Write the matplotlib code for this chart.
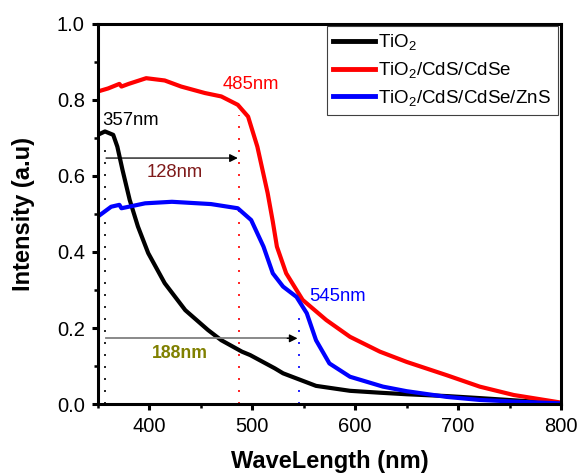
import matplotlib
matplotlib.use("Agg")
import matplotlib.pyplot as plt
from matplotlib.ticker import MultipleLocator, FormatStrFormatter

plt.rcParams['font.family'] = ['Liberation Sans', 'DejaVu Sans']
plt.rcParams['mathtext.fontset'] = 'custom'
plt.rcParams['mathtext.rm'] = 'Liberation Sans'
plt.rcParams['mathtext.it'] = 'Liberation Sans:italic'
plt.rcParams['mathtext.bf'] = 'Liberation Sans:bold'

# Data
tio2_x = [350, 357, 365, 369, 374, 381, 389, 399, 415, 435, 457, 470, 490, 498, 522, 530, 562, 595, 624, 650, 690, 720, 760, 800]
tio2_y = [0.708, 0.717, 0.708, 0.677, 0.616, 0.537, 0.467, 0.397, 0.318, 0.247, 0.195, 0.168, 0.138, 0.129, 0.094, 0.081, 0.048, 0.035, 0.030, 0.026, 0.021, 0.016, 0.009, 0.002]

cdse_x = [350, 360, 371, 373, 380, 397, 415, 431, 454, 470, 486, 496, 505, 515, 520, 524, 533, 549, 572, 595, 624, 650, 689, 721, 754, 800]
cdse_y = [0.822, 0.830, 0.842, 0.835, 0.842, 0.857, 0.851, 0.835, 0.818, 0.809, 0.787, 0.756, 0.677, 0.555, 0.480, 0.414, 0.344, 0.274, 0.221, 0.177, 0.138, 0.111, 0.076, 0.046, 0.024, 0.004]

zns_x = [350, 363, 371, 373, 396, 422, 460, 486, 499, 511, 520, 530, 543, 553, 562, 575, 595, 627, 650, 689, 721, 760, 800]
zns_y = [0.493, 0.519, 0.524, 0.515, 0.528, 0.532, 0.526, 0.515, 0.484, 0.414, 0.344, 0.309, 0.282, 0.239, 0.168, 0.107, 0.072, 0.046, 0.034, 0.019, 0.011, 0.006, 0.002]

labels = ['TiO$_2$', 'TiO$_2$/CdS/CdSe', 'TiO$_2$/CdS/CdSe/ZnS']
edges = [357, 487, 545]
edge_tops = [0.68, 0.76, 0.25]
shift_128 = (358, 486, 0.647)
shift_188 = (358, 544, 0.173)

fig = plt.figure(figsize=(5.82, 4.76), dpi=100)
ax = fig.add_axes([0.168, 0.151, 0.796, 0.799])

ax.plot(tio2_x, tio2_y, color='black', lw=3.0, label=labels[0])
ax.plot(cdse_x, cdse_y, color='#FF0000', lw=3.0, label=labels[1])
ax.plot(zns_x, zns_y, color='#0000FF', lw=3.0, label=labels[2])

# dotted edge markers
for xe, top, c in zip(edges, edge_tops, ['black', '#FF0000', '#0000FF']):
    ax.plot([xe, xe], [0, top], color=c, lw=1.2, dashes=(1.2, 6.0), zorder=1)

# arrows
ax.annotate('', xy=(shift_128[1], shift_128[2]), xytext=(shift_128[0], shift_128[2]),
            arrowprops=dict(arrowstyle='-|>', color='black', lw=0.9, mutation_scale=12,
                            shrinkA=0, shrinkB=0))
ax.plot([shift_188[0], shift_188[1] - 8], [shift_188[2]] * 2, color='#808080', lw=1.3)
ax.annotate('', xy=(shift_188[1], shift_188[2]), xytext=(shift_188[1] - 10, shift_188[2]),
            arrowprops=dict(arrowstyle='-|>', color='black', lw=0.9, mutation_scale=12,
                            shrinkA=0, shrinkB=0))

ax.text(354, 0.745, '357nm', color='black', fontsize=13.3, ha='left', va='center')
ax.text(471, 0.840, '485nm', color='#FF0000', fontsize=13.3, ha='left', va='center')
ax.text(425, 0.609, '128nm', color='#7F1A1A', fontsize=13.3, ha='center', va='center')
ax.text(430, 0.134, '188nm', color='#808000', fontsize=12.7, ha='center', va='center', fontweight='bold')
ax.text(555, 0.282, '545nm', color='#0000FF', fontsize=13.3, ha='left', va='center')

ax.set_xlim(350, 800)
ax.set_ylim(0, 1.0)
ax.xaxis.set_major_locator(MultipleLocator(100))
ax.xaxis.set_minor_locator(MultipleLocator(50))
ax.yaxis.set_major_locator(MultipleLocator(0.2))
ax.yaxis.set_minor_locator(MultipleLocator(0.1))
ax.yaxis.set_major_formatter(FormatStrFormatter('%.1f'))
ax.set_xticks([400, 500, 600, 700, 800])

for s in ax.spines.values():
    s.set_linewidth(2.2)
ax.tick_params(which='major', direction='out', length=4.3, width=2.2, labelsize=14.5,
               pad=5, top=False, right=False)
ax.tick_params(which='minor', direction='out', length=2.8, width=1.8, top=False, right=False)

ax.set_xlabel('WaveLength (nm)', fontsize=17, fontweight='bold', labelpad=10)
ax.set_ylabel('Intensity (a.u)', fontsize=17, fontweight='bold', labelpad=16)

leg = ax.legend(loc='upper right', bbox_to_anchor=(0.993, 0.995), borderaxespad=0,
                fontsize=13.5, fancybox=False, framealpha=1, edgecolor='#404040',
                handlelength=2.2, handletextpad=0.2, labelspacing=0.42, borderpad=0.35)
leg.get_frame().set_linewidth(0.8)
for h in leg.get_lines():
    h.set_linewidth(3.5)

fig.savefig('out.png', dpi=100)
